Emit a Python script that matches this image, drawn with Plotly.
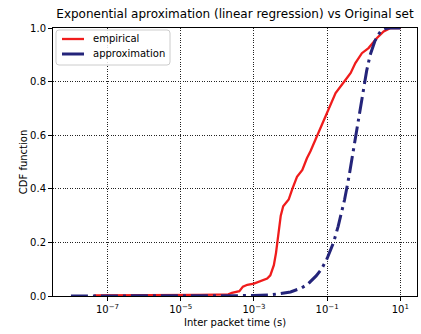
import plotly.graph_objects as go

# Empirical CDF of inter-packet times (seconds)
empirical_x = [4.3e-8, 1e-6, 1e-5, 3.2e-5, 1e-4, 2e-4, 2.5e-4, 3.2e-4, 4e-4, 5e-4,
               6.6e-4, 1e-3, 1.5e-3, 2.3e-3, 2.8e-3, 3.5e-3, 4e-3, 4.4e-3, 4.8e-3,
               5.4e-3, 6.3e-3, 7.9e-3, 8.9e-3, 1.12e-2, 1.5e-2, 2.1e-2, 2.8e-2,
               3.5e-2, 5.4e-2, 0.1, 0.17, 0.32, 0.44, 0.59, 0.89, 1.35, 2.3, 3.5,
               5.4, 10.0]
empirical_y = [0.002, 0.002, 0.003, 0.004, 0.005, 0.006, 0.012, 0.014, 0.018, 0.035,
               0.042, 0.046, 0.055, 0.065, 0.077, 0.115, 0.16, 0.20, 0.25,
               0.30, 0.335, 0.35, 0.36, 0.40, 0.445, 0.47, 0.514,
               0.54, 0.60, 0.682, 0.757, 0.807, 0.832, 0.869, 0.906, 0.925, 0.963, 0.987,
               1.0, 1.0]

# Exponential approximation obtained by linear regression
approx_x = [1e-8, 1e-6, 1e-4, 1e-3, 3e-3, 1e-2, 2e-2, 3e-2, 5e-2, 0.07, 0.1, 0.15,
            0.2, 0.25, 0.3, 0.4, 0.5, 0.6, 0.7, 0.85, 1.0, 1.2, 1.5, 2.0, 2.5, 3.0,
            4.0, 5.0, 10.0]
approx_y = [0.0, 0.0, 0.0002, 0.0015, 0.0045, 0.015, 0.03, 0.045, 0.075, 0.10, 0.14, 0.20,
            0.26, 0.31, 0.36, 0.45, 0.53, 0.60, 0.65, 0.72, 0.78, 0.84, 0.90, 0.95, 0.975, 0.99,
            0.998, 1.0, 1.0]

x_tick_vals = [1e-7, 1e-5, 1e-3, 1e-1, 1e1]
x_tick_text = ["10<sup>\u22127</sup>", "10<sup>\u22125</sup>", "10<sup>\u22123</sup>",
               "10<sup>\u22121</sup>", "10<sup>1</sup>"]
y_tick_vals = [0.0, 0.2, 0.4, 0.6, 0.8, 1.0]

series_names = ["empirical", "approximation"]
series_colors = ["#f01c1c", "#24247a"]

FONT = "DejaVu Sans"
W, H = 421, 334
ML, MR, MT, MB = 53, 4, 28, 38
PW, PH = W - ML - MR, H - MT - MB


def px_to_paper(px, py):
    """Convert figure pixel coordinates to paper coordinates of the plot area."""
    return (px - ML) / PW, (H - MB - py) / PH


fig = go.Figure()
fig.add_trace(go.Scatter(
    x=empirical_x, y=empirical_y, mode="lines", name=series_names[0],
    line=dict(color=series_colors[0], width=2.3),
))
fig.add_trace(go.Scatter(
    x=approx_x, y=approx_y, mode="lines", name=series_names[1],
    line=dict(color=series_colors[1], width=3, dash="17px,5px,3px,5px"),
))

# Compact legend box (rounded frame, line samples and labels)
bx0, by0, bx1, by1, r = 56, 30, 170, 65, 3
path = (f"M {bx0 + r},{by0} L {bx1 - r},{by0} Q {bx1},{by0} {bx1},{by0 + r} "
        f"L {bx1},{by1 - r} Q {bx1},{by1} {bx1 - r},{by1} L {bx0 + r},{by1} "
        f"Q {bx0},{by1} {bx0},{by1 - r} L {bx0},{by0 + r} Q {bx0},{by0} {bx0 + r},{by0} Z")


def conv_path(p):
    out = []
    for tok in p.split():
        if "," in tok:
            a, b = tok.split(",")
            xx, yy = px_to_paper(float(a), float(b))
            out.append(f"{xx:.5f},{yy:.5f}")
        else:
            out.append(tok)
    return " ".join(out)


shapes = [dict(type="path", xref="paper", yref="paper", path=conv_path(path),
               fillcolor="rgba(255,255,255,0.85)", line=dict(color="#cccccc", width=1),
               layer="above")]
annotations = []
for i, (name, col) in enumerate(zip(series_names, series_colors)):
    yy = 39 + 15 * i
    x0, y0 = px_to_paper(62, yy)
    x1, _ = px_to_paper(84, yy)
    shapes.append(dict(type="line", xref="paper", yref="paper", x0=x0, x1=x1, y0=y0, y1=y0,
                       line=dict(color=col, width=2.3 if i == 0 else 3), layer="above"))
    tx, _ = px_to_paper(91, yy)
    annotations.append(dict(text=name, xref="paper", yref="paper", x=tx, y=y0,
                            xanchor="left", yanchor="middle", showarrow=False,
                            font=dict(size=10, family=FONT, color="black")))

grid = dict(showgrid=True, gridcolor="#222222", gridwidth=1, griddash="1px,1.4px")

fig.update_layout(
    width=W, height=H,
    margin=dict(l=ML, r=MR, t=MT, b=MB),
    paper_bgcolor="white", plot_bgcolor="white",
    font=dict(family=FONT, size=10, color="black"),
    title=dict(text="Exponential aproximation (linear regression) vs Original set",
               font=dict(size=12, family=FONT, color="black"),
               xref="paper", x=0.5, xanchor="center",
               yref="container", y=(H - 14) / H, yanchor="middle"),
    showlegend=False,
    shapes=shapes,
    annotations=annotations,
    xaxis=dict(type="log", range=[-8.49, 1.455],
               tickvals=x_tick_vals, ticktext=x_tick_text,
               ticks="outside", ticklen=4, tickcolor="black",
               showline=True, linecolor="black", linewidth=1, mirror=True,
               title=dict(text="Inter packet time (s)", font=dict(size=10, family=FONT), standoff=4),
               zeroline=False, **grid),
    yaxis=dict(range=[0, 1], tickvals=y_tick_vals, tickformat=".1f",
               ticks="outside", ticklen=4, tickcolor="black",
               showline=True, linecolor="black", linewidth=1, mirror=True,
               title=dict(text="CDF function", font=dict(size=10, family=FONT), standoff=0),
               zeroline=False, **grid),
)

fig.write_html("out.html")
